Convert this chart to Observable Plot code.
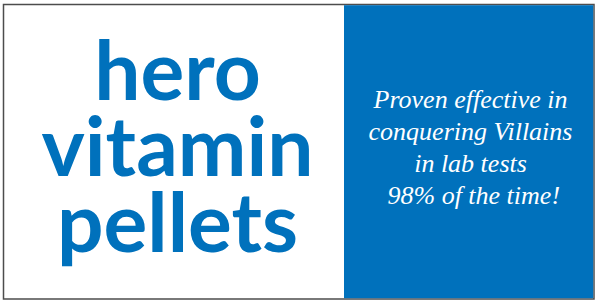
<!DOCTYPE html>
<html>
<head>
<meta charset="utf-8">
<script src="https://cdn.jsdelivr.net/npm/d3@7"></script>
<script src="https://cdn.jsdelivr.net/npm/@observablehq/plot@0.6"></script>
<style>
  html, body { margin: 0; padding: 0; background: #ffffff; }
  #chart svg { display: block; }
</style>
</head>
<body>
<div id="chart"></div>
<script>
// Content
const titleLines = ["hero", "vitamin", "pellets"];
const claimLines = ["Proven effective in", "conquering Villains", "in lab tests", " 98% of the time!"];
const panels = ["label", "claim"];

const W = 596, H = 304;
const blue = "#0071BC";
const titleStep = 76, claimStep = 32;

const chart = Plot.plot({
  width: W,
  height: H,
  margin: 0,
  x: {domain: [0, W], range: [0, W], axis: null},
  y: {domain: [0, H], range: [0, H], axis: null},
  marks: [
    // outer frame
    Plot.rect([panels[0]], {x1: 3.5, x2: 594, y1: 4.5, y2: 299, fill: "white", stroke: "#4d4d4d", strokeWidth: 1.5}),
    // blue claim panel
    Plot.rect([panels[1]], {x1: 344, x2: 593.2, y1: 5.2, y2: 298.2, fill: blue}),
    // big title (y = baseline of last line)
    Plot.text([titleLines.join("\n")], {
      x: 177, y: 99 + (titleLines.length - 1) * titleStep, text: d => d,
      lineAnchor: "bottom", textAnchor: "middle",
      fontSize: 82, lineHeight: titleStep / 82, fontWeight: "bold",
      fontFamily: "Lato, 'Open Sans', sans-serif", fill: blue
    }),
    // script claim (y = baseline of last line)
    Plot.text([claimLines.join("\n")], {
      x: 470, y: 107 + (claimLines.length - 1) * claimStep, text: d => d,
      lineAnchor: "bottom", textAnchor: "middle",
      fontSize: 26, lineHeight: claimStep / 26, fontStyle: "italic",
      fontFamily: "'Liberation Serif', 'DejaVu Serif', serif", fill: "white"
    })
  ]
});
document.getElementById("chart").append(chart);
</script>
</body>
</html>
